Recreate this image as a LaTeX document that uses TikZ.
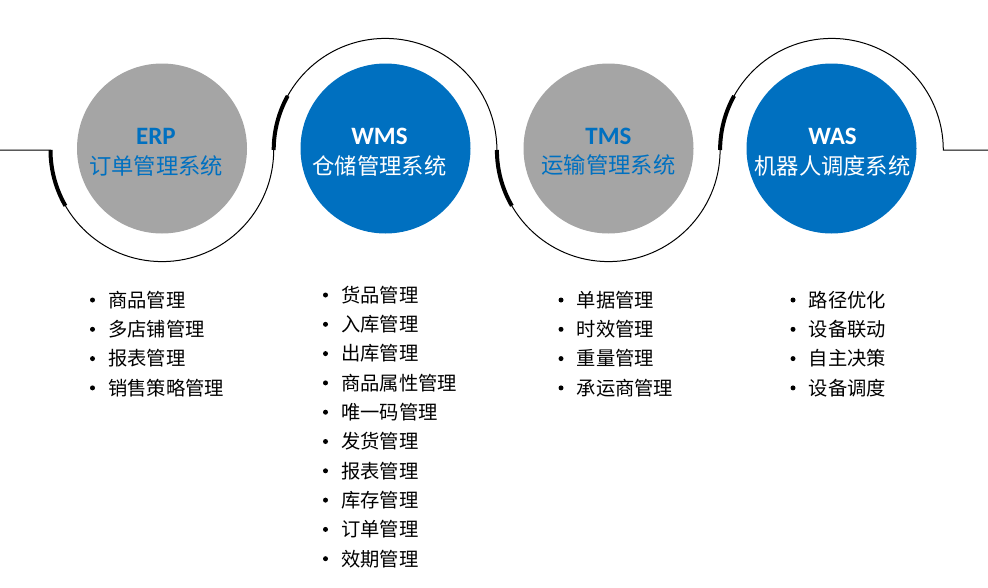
\documentclass[tikz,border=0pt]{standalone}
\usepackage{fontspec}
\setmainfont{Carlito}
\newfontfamily\cjk{Noto Sans CJK SC}
\definecolor{cgray}{HTML}{A5A5A5}
\definecolor{cblue}{HTML}{0070C0}
\tikzset{
  sysgray/.style={circle,fill=cgray,minimum size=170pt,inner sep=0pt},
  sysblue/.style={circle,fill=cblue,minimum size=170pt,inner sep=0pt},
  titleb/.style={font=\fontsize{25}{28}\selectfont\bfseries,text=cblue},
  titlew/.style={font=\fontsize{25}{28}\selectfont\bfseries,text=white},
  subb/.style={font=\cjk\fontsize{22.3}{24}\selectfont,text=cblue},
  subw/.style={font=\cjk\fontsize{22.3}{24}\selectfont,text=white},
  item/.style={anchor=west,font=\cjk\fontsize{19.3}{20}\selectfont,inner sep=0pt},
  dot/.style={circle,fill=black,inner sep=0pt,minimum size=5pt},
  thin/.style={line width=1pt,black},
  thick/.style={line width=4pt,black},
}
\newcommand{\itemlist}[4]{%
  \foreach \t [count=\i from 0] in {#4} {
    \node[dot] (#1b\i) at (#2,#3+29.3*\i) {};
    \node[item] (#1t\i) at (#2+15.5,#3+29.3*\i) {\t};
  }}
\begin{document}
\begin{tikzpicture}[x=1pt,y=-1pt]
\useasboundingbox (0,0) rectangle (988,587);
% path geometry
\coordinate (L0) at (0,150);
\coordinate (L1) at (50.5,150);
\coordinate (R1) at (988,150);
% connecting line with arcs
\draw[thin] (L0) -- (L1)
  arc[start angle=180,end angle=0,radius=111.6]
  arc[start angle=180,end angle=360,radius=111.6]
  arc[start angle=180,end angle=0,radius=111.6]
  arc[start angle=180,end angle=360,radius=111.6]
  coordinate (R0) -- (R1);
% thick accents
\draw[thick] (L1) arc[start angle=180,end angle=150,radius=111.6];
\draw[thick] (273.7,150) arc[start angle=180,end angle=209,radius=111.6];
\draw[thick] (496.9,150) arc[start angle=180,end angle=150,radius=111.6];
\draw[thick] (720.1,150) arc[start angle=180,end angle=209,radius=111.6];
% circles
\node[sysgray] (erp) at (162,148.5) {};
\node[sysblue] (wms) at (385.5,148.5) {};
\node[sysgray] (tms) at (608.5,148.5) {};
\node[sysblue] (was) at (831.5,148.5) {};
\node[titleb] (erpA) at (156,136) {ERP};
\node[subb] (erpB) at (156,165.5) {订单管理系统};
\node[titlew] (wmsA) at (379.5,136) {WMS};
\node[subw] (wmsB) at (379.5,165.5) {仓储管理系统};
\node[titleb] (tmsA) at (608.5,136) {TMS};
\node[subb] (tmsB) at (608.5,165.5) {运输管理系统};
\node[titlew] (wasA) at (832.5,136) {WAS};
\node[subw] (wasB) at (832.5,165.5) {机器人调度系统};
% lists
\itemlist{e}{92.5}{300}{商品管理,多店铺管理,报表管理,销售策略管理}
\itemlist{w}{325.5}{295}{货品管理,入库管理,出库管理,商品属性管理,唯一码管理,发货管理,报表管理,库存管理,订单管理,效期管理}
\itemlist{t}{561}{300}{单据管理,时效管理,重量管理,承运商管理}
\itemlist{s}{793}{300}{路径优化,设备联动,自主决策,设备调度}
\end{tikzpicture}
\end{document}
